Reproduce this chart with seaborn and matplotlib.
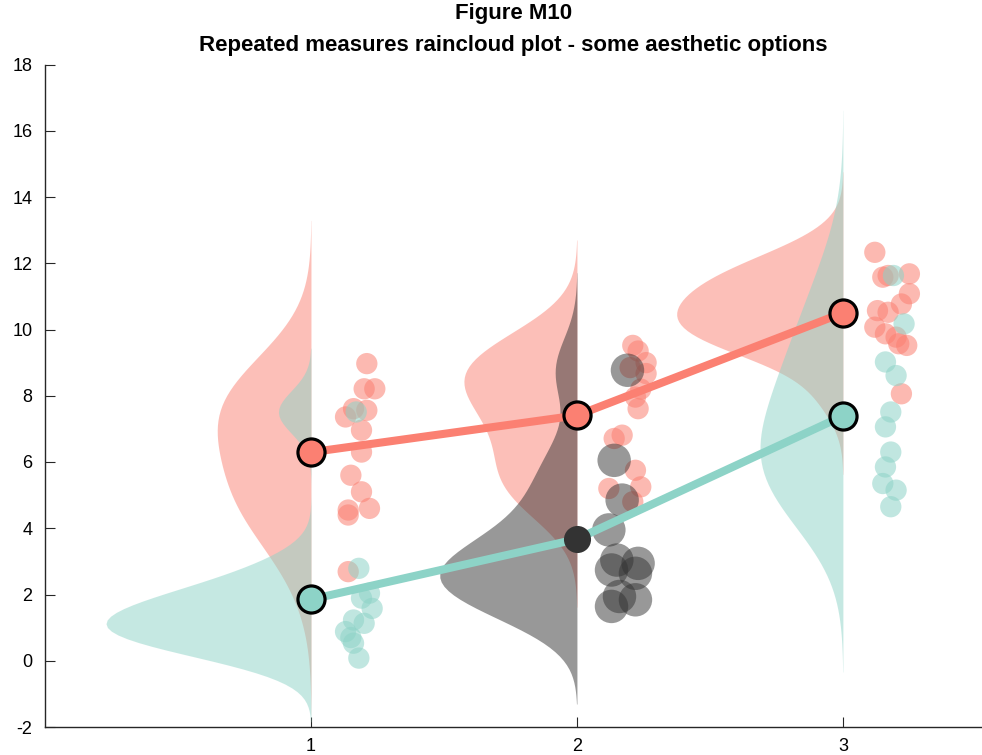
import numpy as np
import matplotlib
matplotlib.use('Agg')
import matplotlib.pyplot as plt
import seaborn as sns

# x positions of the three repeated measures
positions = [1, 2, 3]
tick_labels = ['1', '2', '3']

# series 1 (red) - values and horizontal jitter of the rain drops
red_1 = [8.97, 8.21, 8.21, 7.61, 7.36, 7.56, 6.96, 6.30, 5.60, 5.10, 4.60, 4.55, 4.40, 2.69]
red_1_jit = [0.21, 0.20, 0.24, 0.16, 0.13, 0.21, 0.19, 0.19, 0.15, 0.19, 0.22, 0.14, 0.14, 0.14]
red_2 = [9.52, 9.35, 9.00, 8.85, 8.67, 8.20, 7.96, 7.61, 6.81, 6.71, 5.75, 5.25, 5.20, 4.80]
red_2_jit = [0.21, 0.23, 0.26, 0.20, 0.26, 0.24, 0.22, 0.23, 0.17, 0.14, 0.22, 0.24, 0.12, 0.21]
red_3 = [12.33, 11.63, 11.68, 11.58, 11.08, 10.77, 10.57, 10.52, 10.07, 9.87, 9.77, 9.52, 9.57, 8.06]
red_3_jit = [0.12, 0.17, 0.25, 0.15, 0.25, 0.22, 0.13, 0.17, 0.12, 0.16, 0.20, 0.24, 0.21, 0.22]

# series 2 (teal, second measure drawn in grey)
teal_1 = [7.51, 2.79, 2.04, 1.89, 1.58, 1.23, 1.13, 0.88, 0.70, 0.53, 0.08]
teal_1_jit = [0.17, 0.18, 0.22, 0.19, 0.23, 0.16, 0.20, 0.13, 0.15, 0.16, 0.18]
teal_2 = [8.77, 6.05, 4.85, 3.95, 3.04, 2.94, 2.74, 2.64, 1.94, 1.84, 1.64]
teal_2_jit = [0.19, 0.14, 0.17, 0.12, 0.15, 0.23, 0.13, 0.22, 0.16, 0.22, 0.13]
teal_3 = [11.63, 10.17, 9.02, 8.61, 7.51, 7.06, 6.30, 5.85, 5.35, 5.15, 4.65]
teal_3_jit = [0.19, 0.23, 0.16, 0.20, 0.18, 0.16, 0.18, 0.16, 0.15, 0.20, 0.18]

RED = '#FB8072'
TEAL = '#8DD3C7'
GREY = '#333333'

series = [
    {'data': [red_1, red_2, red_3], 'jit': [red_1_jit, red_2_jit, red_3_jit],
     'colors': [RED, RED, RED], 'sizes': [235, 235, 235], 'line': RED},
    {'data': [teal_1, teal_2, teal_3], 'jit': [teal_1_jit, teal_2_jit, teal_3_jit],
     'colors': [TEAL, GREY, TEAL], 'sizes': [235, 580, 235], 'line': TEAL},
]


def ks_density(values, npts=100):
    """Gaussian kernel density with a MAD based bandwidth (like ksdensity)."""
    v = np.asarray(values, dtype=float)
    sig = np.median(np.abs(v - np.median(v))) / 0.6745
    u = sig * (4 / (3 * len(v))) ** 0.2
    grid = np.linspace(v.min() - 3 * u, v.max() + 3 * u, npts)
    k = np.exp(-0.5 * ((grid[:, None] - v[None, :]) / u) ** 2)
    dens = k.sum(axis=1) / (len(v) * u * np.sqrt(2 * np.pi))
    return grid, dens


sns.set_style('ticks')
plt.rcParams['font.family'] = ['Liberation Sans', 'DejaVu Sans']
plt.rcParams['axes.unicode_minus'] = False

fig = plt.figure(figsize=(9.82, 7.55), dpi=100)
ax = fig.add_axes([45 / 982, 28 / 755, 937 / 982, 662.5 / 755])

# clouds - densities scaled so that the mean peak is half a unit wide
kde = [[ks_density(d) for d in s['data']] for s in series]
max_ks = [dens.max() for row in kde for _, dens in row]
scale = 1 / (2 * np.mean(max_ks))
for i, pos in enumerate(positions):
    for j, s in enumerate(series):
        grid, dens = kde[j][i]
        ax.fill_betweenx(grid, pos - dens * scale, pos, color=s['colors'][i],
                         alpha=0.5, linewidth=0, zorder=1)

# rain
for i, pos in enumerate(positions):
    for s in series:
        c = s['colors'][i]
        sns.scatterplot(x=pos + np.asarray(s['jit'][i]), y=s['data'][i], ax=ax,
                        color=c, s=s['sizes'][i], alpha=0.5 if c == GREY else 0.55,
                        edgecolor='none', zorder=2, legend=False)

# lines connecting the means, then the mean markers
for s in series:
    means = [np.mean(d) for d in s['data']]
    ax.plot(positions, means, color=s['line'], linewidth=5.8, zorder=3,
            solid_capstyle='butt')
for s in series:
    for i, pos in enumerate(positions):
        m = np.mean(s['data'][i])
        if s['colors'][i] == GREY:
            ax.plot(pos, m, 'o', color=GREY, markersize=19.5, markeredgewidth=0, zorder=4)
        else:
            ax.plot(pos, m, 'o', markerfacecolor=s['colors'][i], markeredgecolor='black',
                    markersize=19.5, markeredgewidth=2.3, zorder=4)

ax.set_xlim(0, 3.523)
ax.set_ylim(-2, 18)
ax.set_xticks(positions)
ax.set_xticklabels(tick_labels)
ax.set_yticks(np.arange(-2, 19, 2))
ax.tick_params(direction='in', length=7, width=0.8, labelsize=13, color='#262626',
               labelcolor='black')
ax.tick_params(axis='y', pad=9)
ax.tick_params(axis='x', pad=8)
for side in ['top', 'right']:
    ax.spines[side].set_visible(False)
for side in ['left', 'bottom']:
    ax.spines[side].set_color('#262626')
    ax.spines[side].set_linewidth(1.0)

# two-line bold title centred over the axes
title_x = (45 + 982) / 2 / 982
fig.text(title_x, 1 - 14 / 755, 'Figure M10', ha='center', va='center',
         fontsize=16, fontweight='bold', color='black')
fig.text(title_x, 1 - 45 / 755, 'Repeated measures raincloud plot - some aesthetic options',
         ha='center', va='center', fontsize=16, fontweight='bold', color='black')

fig.savefig('out.png', dpi=100)
